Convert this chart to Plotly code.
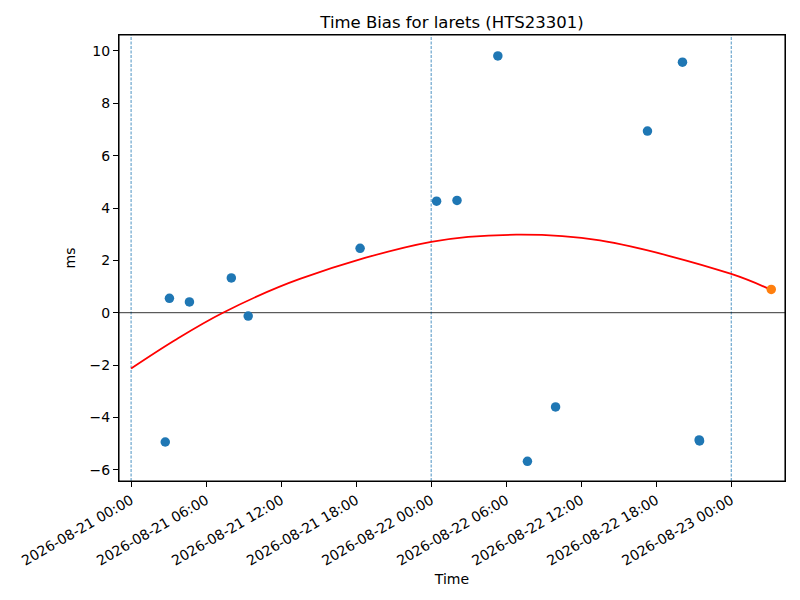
import plotly.graph_objects as go

# measured time bias samples (ms)
times = ["2026-08-21 02:44", "2026-08-21 03:04", "2026-08-21 04:40", "2026-08-21 08:01",
         "2026-08-21 09:22", "2026-08-21 18:19", "2026-08-22 00:26", "2026-08-22 02:04",
         "2026-08-22 05:20", "2026-08-22 07:42", "2026-08-22 09:57", "2026-08-22 17:18",
         "2026-08-22 20:06", "2026-08-22 21:26", "2026-08-22 21:28"]
bias = [-4.94, 0.55, 0.41, 1.33, -0.13, 2.46, 4.26, 4.29,
        9.81, -5.68, -3.60, 6.94, 9.57, -4.86, -4.90]

# latest sample (orange)
last_time = ["2026-08-23 03:12"]
last_bias = [0.89]

# fitted trend
fit_time = ["2026-08-21 00:00", "2026-08-21 03:30", "2026-08-21 07:21", "2026-08-21 13:30",
            "2026-08-22 00:00", "2026-08-22 06:48", "2026-08-22 13:30", "2026-08-23 00:00",
            "2026-08-23 03:12"]
fit_bias = [-2.13, -1.05, 0.0, 1.29, 2.71, 2.98, 2.76, 1.48, 0.87]

day_marks = ["2026-08-21 00:00", "2026-08-22 00:00", "2026-08-23 00:00"]

fig = go.Figure()
fig.add_trace(go.Scatter(x=times, y=bias, mode="markers",
                         marker=dict(color="#1f77b4", size=9.5), showlegend=False))
fig.add_trace(go.Scatter(x=fit_time, y=fit_bias, mode="lines",
                         line=dict(color="red", width=1.8, shape="spline"), showlegend=False))
fig.add_trace(go.Scatter(x=last_time, y=last_bias, mode="markers",
                         marker=dict(color="#ff7f0e", size=9.5), showlegend=False))

for d in day_marks:
    fig.add_vline(x=d, line=dict(color="#1f77b4", width=0.8, dash="3px,1.5px"), layer="below")
fig.add_hline(y=0, line=dict(color="black", width=0.8), layer="below")

# frame around the axes (mirror lines didn't show up)
fig.add_shape(type="rect", xref="paper", yref="paper", x0=0, x1=1, y0=0, y1=1,
              line=dict(color="black", width=1.1), layer="above")

axis_style = dict(showline=True, linecolor="black", linewidth=1, mirror=True,
                  ticks="outside", ticklen=5, tickcolor="black", showgrid=False,
                  zeroline=False, tickfont=dict(size=14, color="black"))

fig.update_xaxes(axis_style, range=["2026-08-20 23:02", "2026-08-23 04:18"],
                 dtick=6 * 3600 * 1000, tick0="2026-08-21 00:00",
                 tickformat="%Y-%m-%d %H:%M", tickangle=-30,
                 title=dict(text="Time", font=dict(size=14, color="black"), standoff=6))
fig.update_yaxes(axis_style, range=[-6.43, 10.61], dtick=2,
                 title=dict(text="ms", font=dict(size=14, color="black"), standoff=10))

# page body adds 8px offset, so margins are shifted to compensate
fig.update_layout(
    width=800, height=600,
    font=dict(family="DejaVu Sans", color="black"),
    plot_bgcolor="white", paper_bgcolor="white",
    margin=dict(l=111, r=23, t=27, b=127),
    title=dict(text="Time Bias for larets (HTS23301)", x=0.555, xanchor="center",
               y=0.977, yanchor="middle", font=dict(size=16.5, color="black")),
)

fig.write_html("out.html")
